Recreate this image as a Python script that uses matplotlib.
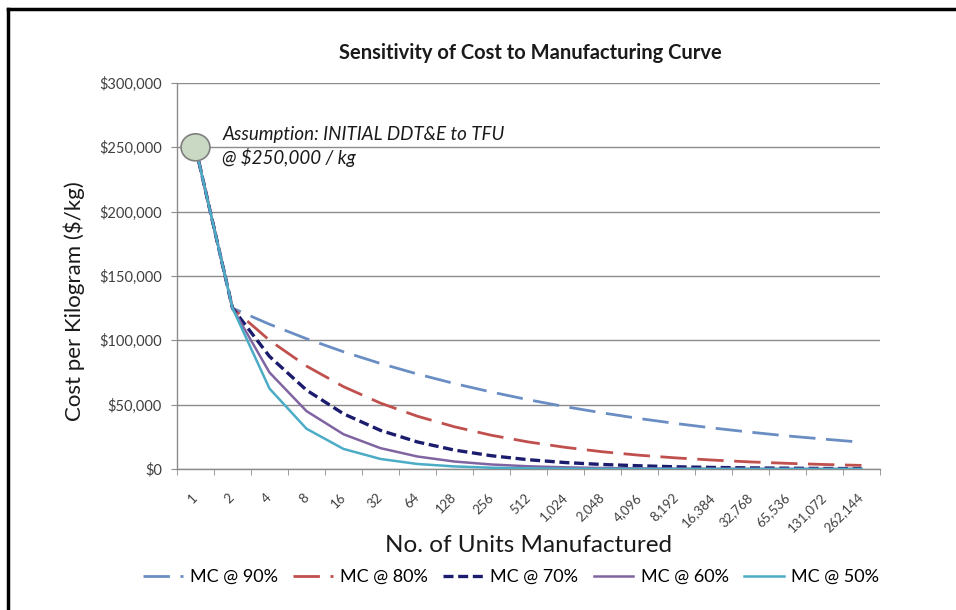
import matplotlib
matplotlib.use("Agg")
import matplotlib.pyplot as plt
from matplotlib.patches import Ellipse
from matplotlib.lines import Line2D
from matplotlib.ticker import FuncFormatter, FixedLocator

plt.rcParams['font.family'] = ['Lato', 'DejaVu Sans']

units = [1, 2, 4, 8, 16, 32, 64, 128, 256, 512, 1024, 2048, 4096, 8192,
         16384, 32768, 65536, 131072, 262144]
unit_labels = [f"{u:,}" for u in units]

mc90 = [250000, 125000, 112500, 101250, 91100, 82000, 73800, 66400, 59800,
        53800, 48400, 43600, 39200, 35300, 31800, 28600, 25700, 23200, 20800]
mc80 = [250000, 125000, 100000, 80000, 64000, 51200, 41000, 32800, 26200,
        21000, 16800, 13400, 10700, 8600, 6900, 5500, 4400, 3500, 2800]
mc70 = [250000, 125000, 87500, 61300, 42900, 30000, 21000, 14700, 10300,
        7200, 5000, 3500, 2500, 1700, 1200, 850, 600, 400, 300]
mc60 = [250000, 125000, 75000, 45000, 27000, 16200, 9700, 5800, 3500,
        2100, 1300, 760, 450, 270, 160, 100, 60, 35, 20]
mc50 = [250000, 125000, 62500, 31300, 15600, 7800, 3900, 2000, 1000,
        490, 240, 120, 60, 30, 15, 8, 4, 2, 1]

series_names = ["MC @ 90%", "MC @ 80%", "MC @ 70%", "MC @ 60%", "MC @ 50%"]
series_vals = [mc90, mc80, mc70, mc60, mc50]

fig = plt.figure(figsize=(9.56, 6.10), dpi=100)
W, H = 956, 610
L, R, T, B = 177, 880, 83, 469
ax = fig.add_axes([L / W, 1 - B / H, (R - L) / W, (B - T) / H])

xs = list(range(len(units)))
styles = [
    dict(color="#6a8ec3", lw=2.0, dashes=(9.5, 3.8)),
    dict(color="#c0504d", lw=2.0, dashes=(9.5, 3.8)),
    dict(color="#1c1c6e", lw=2.4, dashes=(3.0, 1.4)),
    dict(color="#8064a2", lw=1.8),
    dict(color="#4bacc6", lw=1.8),
]
handles = []
for name, vals, st in zip(series_names, series_vals, styles):
    kw = dict(st)
    dashes = kw.pop("dashes", None)
    line, = ax.plot(xs, vals, label=name, zorder=3, **kw)
    if dashes:
        line.set_dashes(dashes)
    handles.append(line)

ax.set_xlim(-0.5, len(units) - 0.5)
ax.set_ylim(0, 300000)
ax.set_yticks(range(0, 300001, 50000))
ax.yaxis.set_major_formatter(FuncFormatter(lambda v, p: f"${int(v):,}"))
ax.grid(axis="y", color="#8c8c8c", lw=1.0, zorder=1)
ax.set_axisbelow(True)

ax.set_xticks(xs)
ax.set_xticklabels(unit_labels, rotation=45, ha="right", va="center",
                   rotation_mode="anchor", fontsize=9.5, color="#404040")
ax.xaxis.set_minor_locator(FixedLocator([i - 0.5 for i in range(len(units) + 1)]))
ax.tick_params(axis="x", which="major", length=0, pad=19)
ax.tick_params(axis="x", which="minor", length=4, color="#8c8c8c", direction="out")
ax.tick_params(axis="y", length=4, color="#8c8c8c", labelsize=10.5,
               labelcolor="#404040", pad=7)

for s in ["top", "right"]:
    ax.spines[s].set_visible(False)
for s in ["left", "bottom"]:
    ax.spines[s].set_color("#8c8c8c")
    ax.spines[s].set_linewidth(1.0)

ax.set_ylabel("Cost per Kilogram ($/kg)", fontsize=16, color="#1a1a1a")
ax.yaxis.set_label_coords((74 - L) / (R - L), (B - 301) / (B - T))
ax.yaxis.label.set_va("center")
ax.set_xlabel("No. of Units Manufactured", fontsize=17.5, color="#1a1a1a")
ax.xaxis.set_label_coords(0.5, (B - 545) / (B - T))
ax.xaxis.label.set_va("center")

fig.text(530 / W, 1 - 53 / H, "Sensitivity of Cost to Manufacturing Curve",
         ha="center", va="center", fontsize=14.5, fontweight="bold", color="#1a1a1a")

ell = Ellipse((0, mc90[0]), width=0.78, height=21000, facecolor="#c9d9c3",
              edgecolor="#7f7f7f", lw=1.2, zorder=4)
ax.add_patch(ell)
ax.text(0.72, 266700, "Assumption: INITIAL DDT&E to TFU\n@ $250,000 / kg",
        fontsize=13.5, style="italic", color="#1a1a1a", va="top", ha="left",
        linespacing=1.3, zorder=5)

fig.legend(handles=handles, loc="center", bbox_to_anchor=(511 / W, 1 - 577 / H),
           ncol=5, frameon=False, fontsize=13, handlelength=2.2,
           columnspacing=0.85, handletextpad=0.4)

fig.add_artist(Line2D([8 / W, 8 / W], [0, 1 - 9 / H], color="black", lw=2.5,
                      transform=fig.transFigure))
fig.add_artist(Line2D([8 / W, 1], [1 - 9 / H, 1 - 9 / H], color="black", lw=2.5,
                      transform=fig.transFigure))

fig.savefig("out.png", dpi=100)
